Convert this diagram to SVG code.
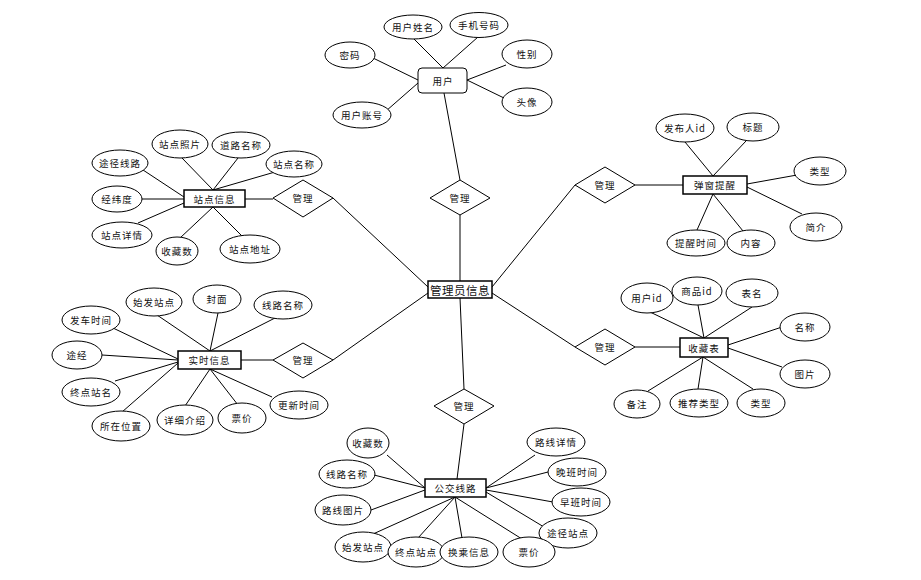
<svg xmlns="http://www.w3.org/2000/svg" width="921" height="580" viewBox="0 0 921 580">
<style>
.e{fill:#fff;stroke:#000;stroke-width:1}
.r{fill:#fff;stroke:#000;stroke-width:1.5}
.d{fill:#fff;stroke:#000;stroke-width:1}
.c line{stroke:#000;stroke-width:1}
text{font-family:"Noto Sans CJK SC","Liberation Sans",sans-serif;font-size:9.5px;fill:#111;text-anchor:middle;dominant-baseline:central;letter-spacing:1px}
.big{font-size:11.5px;letter-spacing:0.5px}
</style>
<rect width="921" height="580" fill="#fff"/>
<g class="c" id="connectors">
<!-- center to diamonds -->
<line x1="460" y1="281" x2="460" y2="215"/>
<line x1="428" y1="287" x2="333" y2="198"/>
<line x1="428" y1="293" x2="333" y2="360"/>
<line x1="492" y1="287" x2="575" y2="185"/>
<line x1="492" y1="293" x2="575" y2="347"/>
<line x1="460" y1="298" x2="464" y2="389"/>
<!-- user -->
<line x1="444" y1="93" x2="460" y2="180"/>
<line x1="414" y1="39" x2="443" y2="68"/>
<line x1="478" y1="37" x2="443" y2="68"/>
<line x1="373" y1="58" x2="418" y2="80"/>
<line x1="506" y1="65" x2="467" y2="80"/>
<line x1="504" y1="98" x2="467" y2="80"/>
<line x1="386" y1="111" x2="418" y2="83"/>
<!-- 站点信息 -->
<line x1="182" y1="158" x2="213" y2="190"/>
<line x1="238" y1="158" x2="213" y2="190"/>
<line x1="275" y1="172" x2="213" y2="190"/>
<line x1="140" y1="168" x2="184" y2="197"/>
<line x1="142" y1="199" x2="184" y2="199"/>
<line x1="138" y1="223" x2="184" y2="203"/>
<line x1="180" y1="238" x2="213" y2="207"/>
<line x1="243" y1="237" x2="213" y2="207"/>
<line x1="245" y1="199" x2="273" y2="199"/>
<!-- 弹窗提醒 -->
<line x1="685" y1="142" x2="713" y2="176"/>
<line x1="746" y1="141" x2="713" y2="176"/>
<line x1="797" y1="175" x2="747" y2="184"/>
<line x1="802" y1="214" x2="747" y2="187"/>
<line x1="697" y1="230" x2="713" y2="194"/>
<line x1="743" y1="231" x2="713" y2="194"/>
<line x1="635" y1="185" x2="683" y2="185"/>
<!-- 实时信息 -->
<line x1="157" y1="315" x2="210" y2="351"/>
<line x1="218" y1="313" x2="210" y2="351"/>
<line x1="275" y1="318" x2="210" y2="351"/>
<line x1="113" y1="328" x2="178" y2="359"/>
<line x1="102" y1="355" x2="178" y2="360"/>
<line x1="115" y1="381" x2="178" y2="362"/>
<line x1="122" y1="412" x2="178" y2="363"/>
<line x1="185" y1="406" x2="210" y2="369"/>
<line x1="238" y1="405" x2="210" y2="369"/>
<line x1="272" y1="397" x2="210" y2="369"/>
<line x1="241" y1="360" x2="273" y2="360"/>
<!-- 收藏表 -->
<line x1="650" y1="312" x2="704" y2="338"/>
<line x1="698" y1="305" x2="704" y2="338"/>
<line x1="752" y1="307" x2="704" y2="338"/>
<line x1="782" y1="327" x2="728" y2="345"/>
<line x1="782" y1="367" x2="728" y2="348"/>
<line x1="648" y1="391" x2="703" y2="357"/>
<line x1="698" y1="389" x2="703" y2="357"/>
<line x1="753" y1="389" x2="703" y2="357"/>
<line x1="635" y1="347" x2="680" y2="347"/>
<!-- 公交线路 -->
<line x1="464" y1="424" x2="457" y2="479"/>
<line x1="387" y1="455" x2="425" y2="488"/>
<line x1="374" y1="475" x2="425" y2="488"/>
<line x1="371" y1="510" x2="425" y2="490"/>
<line x1="535" y1="455" x2="486" y2="488"/>
<line x1="548" y1="472" x2="486" y2="488"/>
<line x1="553" y1="502" x2="486" y2="490"/>
<line x1="544" y1="527" x2="486" y2="492"/>
<line x1="373" y1="534" x2="455" y2="497"/>
<line x1="418" y1="538" x2="455" y2="497"/>
<line x1="462" y1="538" x2="455" y2="497"/>
<line x1="522" y1="539" x2="455" y2="497"/>
</g>

<g id="center"><rect class="r" x="428" y="281" width="64" height="17"/><text class="big" x="460" y="289.5">管理员信息</text></g>

<g id="m-top"><polygon class="d" points="460,180 490,198 460,215 430,198"/><text x="460" y="198">管理</text></g>
<g id="m-ul"><polygon class="d" points="303,180 333,198 303,217 273,198"/><text x="303" y="198">管理</text></g>
<g id="m-ll"><polygon class="d" points="303,343 333,360 303,378 273,360"/><text x="303" y="360">管理</text></g>
<g id="m-ur"><polygon class="d" points="605,167 635,185 605,203 575,185"/><text x="605" y="185">管理</text></g>
<g id="m-lr"><polygon class="d" points="605,329 635,347 605,365 575,347"/><text x="605" y="347">管理</text></g>
<g id="m-b"><polygon class="d" points="464,389 494,406 464,424 434,406"/><text x="464" y="406">管理</text></g>

<g id="user"><rect x="418" y="68" width="49" height="25" rx="4" fill="#fff" stroke="#000" stroke-width="1"/><text x="443" y="80.5">用户</text></g>
<g id="u1"><ellipse class="e" cx="413" cy="27" rx="29" ry="12"/><text x="413" y="27">用户姓名</text></g>
<g id="u2"><ellipse class="e" cx="479" cy="25" rx="29" ry="12.5"/><text x="479" y="25">手机号码</text></g>
<g id="u3"><ellipse class="e" cx="350" cy="55" rx="25" ry="13"/><text x="350" y="55">密码</text></g>
<g id="u4"><ellipse class="e" cx="527" cy="54" rx="25" ry="14"/><text x="527" y="54">性别</text></g>
<g id="u5"><ellipse class="e" cx="527" cy="102" rx="25" ry="14"/><text x="527" y="102">头像</text></g>
<g id="u6"><ellipse class="e" cx="362" cy="115" rx="29" ry="13"/><text x="362" y="115">用户账号</text></g>

<g id="station"><rect class="r" x="184" y="190" width="61" height="17"/><text x="214.5" y="198.5">站点信息</text></g>
<g id="s1"><ellipse class="e" cx="180" cy="144" rx="28" ry="14"/><text x="180" y="144">站点照片</text></g>
<g id="s2"><ellipse class="e" cx="241" cy="145" rx="29" ry="13"/><text x="241" y="145">道路名称</text></g>
<g id="s3"><ellipse class="e" cx="120" cy="163" rx="28" ry="13"/><text x="120" y="163">途径线路</text></g>
<g id="s4"><ellipse class="e" cx="294" cy="164" rx="28" ry="13"/><text x="294" y="164">站点名称</text></g>
<g id="s5"><ellipse class="e" cx="117" cy="199" rx="25" ry="13"/><text x="117" y="199">经纬度</text></g>
<g id="s6"><ellipse class="e" cx="122" cy="235" rx="30" ry="13"/><text x="122" y="235">站点详情</text></g>
<g id="s7"><ellipse class="e" cx="177" cy="251" rx="21" ry="14"/><text x="177" y="251">收藏数</text></g>
<g id="s8"><ellipse class="e" cx="250" cy="249" rx="30" ry="14"/><text x="250" y="249">站点地址</text></g>

<g id="popup"><rect class="r" x="683" y="176" width="64" height="18"/><text x="715" y="185">弹窗提醒</text></g>
<g id="p1"><ellipse class="e" cx="685" cy="128" rx="29" ry="14"/><text x="685" y="128">发布人id</text></g>
<g id="p2"><ellipse class="e" cx="753" cy="127" rx="26" ry="14"/><text x="753" y="127">标题</text></g>
<g id="p3"><ellipse class="e" cx="820" cy="171" rx="26" ry="14"/><text x="820" y="171">类型</text></g>
<g id="p4"><ellipse class="e" cx="816" cy="227" rx="26" ry="14"/><text x="816" y="227">简介</text></g>
<g id="p5"><ellipse class="e" cx="696" cy="243" rx="29" ry="13"/><text x="696" y="243">提醒时间</text></g>
<g id="p6"><ellipse class="e" cx="751" cy="243" rx="24" ry="13"/><text x="751" y="243">内容</text></g>

<g id="realtime"><rect class="r" x="178" y="351" width="63" height="18"/><text x="209.5" y="360">实时信息</text></g>
<g id="t1"><ellipse class="e" cx="154" cy="302" rx="28" ry="14"/><text x="154" y="302">始发站点</text></g>
<g id="t2"><ellipse class="e" cx="217" cy="299" rx="24" ry="14"/><text x="217" y="299">封面</text></g>
<g id="t3"><ellipse class="e" cx="283" cy="305" rx="29" ry="14"/><text x="283" y="305">线路名称</text></g>
<g id="t4"><ellipse class="e" cx="91" cy="320" rx="29" ry="14"/><text x="91" y="320">发车时间</text></g>
<g id="t5"><ellipse class="e" cx="77" cy="355" rx="25" ry="14"/><text x="77" y="355">途经</text></g>
<g id="t6"><ellipse class="e" cx="91" cy="392" rx="29" ry="14"/><text x="91" y="392">终点站名</text></g>
<g id="t7"><ellipse class="e" cx="121" cy="426" rx="29" ry="15"/><text x="121" y="426">所在位置</text></g>
<g id="t8"><ellipse class="e" cx="185" cy="420" rx="28" ry="15"/><text x="185" y="420">详细介绍</text></g>
<g id="t9"><ellipse class="e" cx="242" cy="418" rx="24" ry="15"/><text x="242" y="418">票价</text></g>
<g id="t10"><ellipse class="e" cx="299" cy="405" rx="29" ry="14"/><text x="299" y="405">更新时间</text></g>

<g id="fav"><rect class="r" x="680" y="338" width="48" height="19"/><text x="704" y="347.5">收藏表</text></g>
<g id="f1"><ellipse class="e" cx="647" cy="298" rx="26" ry="15"/><text x="647" y="298">用户id</text></g>
<g id="f2"><ellipse class="e" cx="697" cy="291" rx="25" ry="14"/><text x="697" y="291">商品id</text></g>
<g id="f3"><ellipse class="e" cx="752" cy="293" rx="26" ry="14"/><text x="752" y="293">表名</text></g>
<g id="f4"><ellipse class="e" cx="805" cy="327" rx="25" ry="14"/><text x="805" y="327">名称</text></g>
<g id="f5"><ellipse class="e" cx="805" cy="374" rx="25" ry="14"/><text x="805" y="374">图片</text></g>
<g id="f6"><ellipse class="e" cx="637" cy="404" rx="23" ry="14"/><text x="637" y="404">备注</text></g>
<g id="f7"><ellipse class="e" cx="699" cy="403" rx="29" ry="14"/><text x="699" y="403">推荐类型</text></g>
<g id="f8"><ellipse class="e" cx="761" cy="403" rx="24" ry="14"/><text x="761" y="403">类型</text></g>

<g id="bus"><rect class="r" x="425" y="479" width="61" height="18"/><text x="455.5" y="488">公交线路</text></g>
<g id="b1"><ellipse class="e" cx="368" cy="443" rx="21" ry="15"/><text x="368" y="443">收藏数</text></g>
<g id="b2"><ellipse class="e" cx="347" cy="474" rx="28" ry="14"/><text x="347" y="474">线路名称</text></g>
<g id="b3"><ellipse class="e" cx="343" cy="510" rx="28" ry="15"/><text x="343" y="510">路线图片</text></g>
<g id="b4"><ellipse class="e" cx="556" cy="442" rx="29" ry="14"/><text x="556" y="442">路线详情</text></g>
<g id="b5"><ellipse class="e" cx="577" cy="472" rx="29" ry="14"/><text x="577" y="472">晚班时间</text></g>
<g id="b6"><ellipse class="e" cx="581" cy="502" rx="29" ry="14"/><text x="581" y="502">早班时间</text></g>
<g id="b7"><ellipse class="e" cx="568" cy="533" rx="29" ry="15"/><text x="568" y="533">途径站点</text></g>
<g id="b8"><ellipse class="e" cx="363" cy="547" rx="28" ry="15"/><text x="363" y="547">始发站点</text></g>
<g id="b9"><ellipse class="e" cx="416" cy="552" rx="28" ry="15"/><text x="416" y="552">终点站点</text></g>
<g id="b10"><ellipse class="e" cx="469" cy="552" rx="29" ry="15"/><text x="469" y="552">换乘信息</text></g>
<g id="b11"><ellipse class="e" cx="529" cy="552" rx="26" ry="15"/><text x="529" y="552">票价</text></g>
</svg>
